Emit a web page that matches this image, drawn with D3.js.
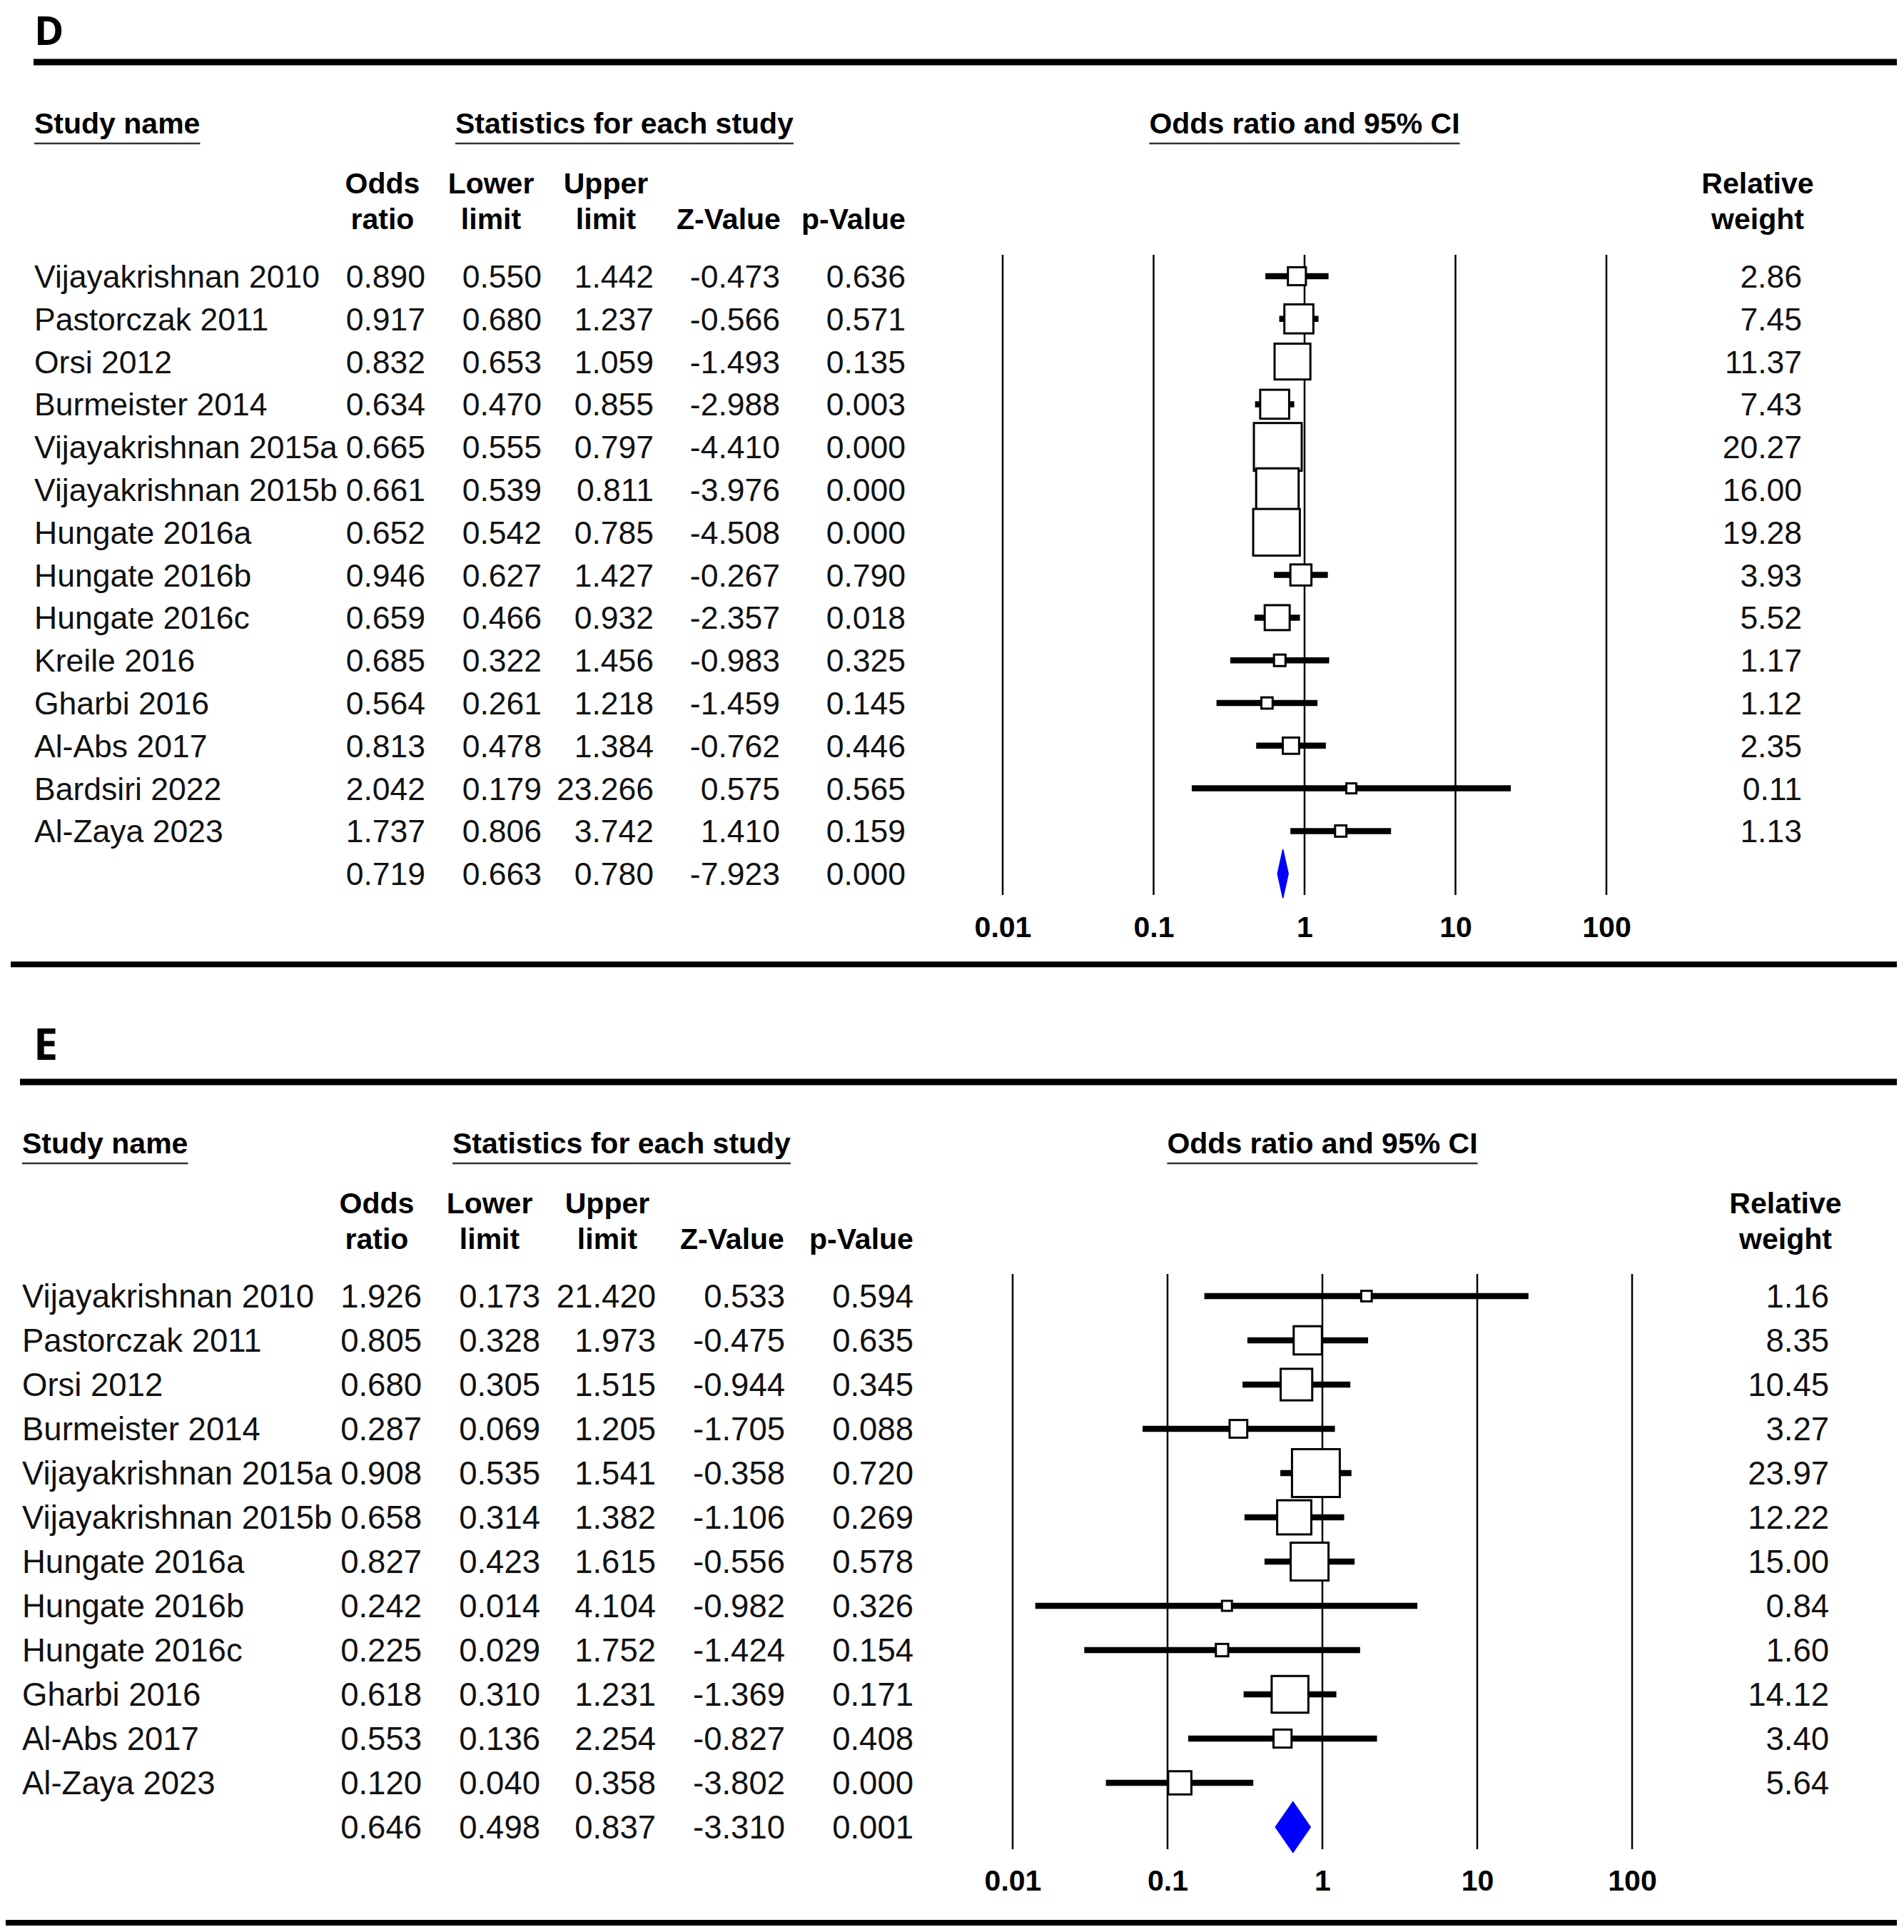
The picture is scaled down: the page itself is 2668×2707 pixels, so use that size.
<!DOCTYPE html>
<html>
<head>
<meta charset="utf-8">
<script src="https://cdn.jsdelivr.net/npm/d3@7"></script>
<style>
  body { margin: 0; background: #fff; }
  svg { display: block; }
</style>
</head>
<body>
<div id="chart"></div>
<script>
//Forest plots D and E

//Data - panel D
const studyD = ["Vijayakrishnan 2010", "Pastorczak 2011", "Orsi 2012", "Burmeister 2014", "Vijayakrishnan 2015a",
	"Vijayakrishnan 2015b", "Hungate 2016a", "Hungate 2016b", "Hungate 2016c", "Kreile 2016", "Gharbi 2016",
	"Al-Abs 2017", "Bardsiri 2022", "Al-Zaya 2023"];
const orD = [0.890, 0.917, 0.832, 0.634, 0.665, 0.661, 0.652, 0.946, 0.659, 0.685, 0.564, 0.813, 2.042, 1.737];
const lowD = [0.550, 0.680, 0.653, 0.470, 0.555, 0.539, 0.542, 0.627, 0.466, 0.322, 0.261, 0.478, 0.179, 0.806];
const upD = [1.442, 1.237, 1.059, 0.855, 0.797, 0.811, 0.785, 1.427, 0.932, 1.456, 1.218, 1.384, 23.266, 3.742];
const zD = [-0.473, -0.566, -1.493, -2.988, -4.410, -3.976, -4.508, -0.267, -2.357, -0.983, -1.459, -0.762, 0.575, 1.410];
const pD = [0.636, 0.571, 0.135, 0.003, 0.000, 0.000, 0.000, 0.790, 0.018, 0.325, 0.145, 0.446, 0.565, 0.159];
const wD = [2.86, 7.45, 11.37, 7.43, 20.27, 16.00, 19.28, 3.93, 5.52, 1.17, 1.12, 2.35, 0.11, 1.13];
const sumD = [0.719, 0.663, 0.780, -7.923, 0.000];

//Data - panel E
const studyE = ["Vijayakrishnan 2010", "Pastorczak 2011", "Orsi 2012", "Burmeister 2014", "Vijayakrishnan 2015a",
	"Vijayakrishnan 2015b", "Hungate 2016a", "Hungate 2016b", "Hungate 2016c", "Gharbi 2016", "Al-Abs 2017",
	"Al-Zaya 2023"];
const orE = [1.926, 0.805, 0.680, 0.287, 0.908, 0.658, 0.827, 0.242, 0.225, 0.618, 0.553, 0.120];
const lowE = [0.173, 0.328, 0.305, 0.069, 0.535, 0.314, 0.423, 0.014, 0.029, 0.310, 0.136, 0.040];
const upE = [21.420, 1.973, 1.515, 1.205, 1.541, 1.382, 1.615, 4.104, 1.752, 1.231, 2.254, 0.358];
const zE = [0.533, -0.475, -0.944, -1.705, -0.358, -1.106, -0.556, -0.982, -1.424, -1.369, -0.827, -3.802];
const pE = [0.594, 0.635, 0.345, 0.088, 0.720, 0.269, 0.578, 0.326, 0.154, 0.171, 0.408, 0.000];
const wE = [1.16, 8.35, 10.45, 3.27, 23.97, 12.22, 15.00, 0.84, 1.60, 14.12, 3.40, 5.64];
const sumE = [0.646, 0.498, 0.837, -3.310, 0.001];

//Labels
const colHeads = [["Odds", "ratio"], ["Lower", "limit"], ["Upper", "limit"], ["", "Z-Value"], ["", "p-Value"]];
const tickVals = [0.01, 0.1, 1, 10, 100];
const tickLabels = ["0.01", "0.1", "1", "10", "100"];

//Constants
const W = 2668, H = 2707;
const dataFont = "'Liberation Sans', Arial, sans-serif";
const loc = d3.formatLocale({decimal: ".", thousands: ",", grouping: [3], currency: ["", ""], minus: "-"});
const f3 = loc.format(".3f");
const f2 = loc.format(".2f");

let svg = d3.select("#chart").append("svg")
	.attr("width", W)
	.attr("height", H);

svg.append("rect").attr("width", W).attr("height", H).attr("fill", "#fff");

let underlined = function(g, x, y, txt, anchor) {
	let t = g.append("text")
		.attr("x", x).attr("y", y)
		.attr("text-anchor", anchor)
		.attr("font-family", dataFont)
		.attr("font-weight", "bold")
		.attr("font-size", 41)
		.text(txt);
	let len = t.node().getComputedTextLength();
	let x0 = anchor == "middle" ? x - len / 2 : x;
	g.append("line")
		.attr("x1", x0).attr("x2", x0 + len)
		.attr("y1", y + 14).attr("y2", y + 14)
		.attr("stroke", "#333").attr("stroke-width", 2.5);
}

let drawPanel = function(p) {
	let g = svg.append("g");
	let n = p.study.length;
	let y = function(i) { return p.row0 + i * p.step; };
	let ySum = y(n);
	let x = d3.scaleLog().domain([0.01, 100]).range(p.range);

	//panel letter and rules
	g.append("text")
		.attr("x", p.letterX).attr("y", p.letterBase)
		.attr("font-family", "'Open Sans', 'Noto Sans', sans-serif")
		.attr("font-weight", "bold")
		.attr("font-size", p.letterSize)
		.text(p.letter);
	g.append("line")
		.attr("x1", p.topX0).attr("x2", 2658)
		.attr("y1", p.row0 - 300).attr("y2", p.row0 - 300)
		.attr("stroke", "#000").attr("stroke-width", 9);
	g.append("line")
		.attr("x1", p.botX0).attr("x2", 2658)
		.attr("y1", ySum + p.botGap).attr("y2", ySum + p.botGap)
		.attr("stroke", "#000").attr("stroke-width", 8);

	//group headers
	underlined(g, p.nameX, p.row0 - 200, "Study name", "start");
	underlined(g, p.statsX, p.row0 - 200, "Statistics for each study", "start");
	underlined(g, x(1), p.row0 - 200, "Odds ratio and 95% CI", "middle");

	//column headers
	colHeads.forEach(function(hd, k) {
		hd.forEach(function(s, j) {
			g.append("text")
				.attr("x", p.colH[k])
				.attr("y", p.row0 + (j == 0 ? -116 : -66))
				.attr("text-anchor", "middle")
				.attr("font-family", dataFont)
				.attr("font-weight", "bold")
				.attr("font-size", 41)
				.text(s);
		});
	});
	["Relative", "weight"].forEach(function(s, j) {
		g.append("text")
			.attr("x", p.wH)
			.attr("y", p.row0 + (j == 0 ? -116 : -66))
			.attr("text-anchor", "middle")
			.attr("font-family", dataFont)
			.attr("font-weight", "bold")
			.attr("font-size", 41)
			.text(s);
	});

	//table rows
	let rows = p.study.map(function(s, i) {
		return {name: s, vals: [p.or[i], p.low[i], p.up[i], p.z[i], p.p[i]], w: p.w[i], i: i};
	});
	rows.push({name: "", vals: p.sum, w: null, i: n});

	let rowG = g.selectAll(".row").data(rows).enter().append("g")
		.attr("font-family", dataFont)
		.attr("font-size", p.fs)
		.attr("fill", "#111");
	rowG.append("text")
		.attr("x", p.nameX)
		.attr("y", function(d) { return y(d.i) + 16; })
		.text(function(d) { return d.name; });
	p.colR.forEach(function(cx, k) {
		rowG.append("text")
			.attr("x", cx)
			.attr("y", function(d) { return y(d.i) + 16; })
			.attr("text-anchor", "end")
			.text(function(d) { return f3(d.vals[k]); });
	});
	rowG.filter(function(d) { return d.w != null; })
		.append("text")
		.attr("x", p.wR)
		.attr("y", function(d) { return y(d.i) + 16; })
		.attr("text-anchor", "end")
		.text(function(d) { return f2(d.w); });

	//vertical reference lines
	g.selectAll(".vline").data(tickVals).enter().append("line")
		.attr("x1", x).attr("x2", x)
		.attr("y1", p.row0 - p.step / 2)
		.attr("y2", ySum + p.step / 2)
		.attr("stroke", "#000").attr("stroke-width", 2.5);

	//axis labels
	let axis = d3.axisBottom(x)
		.tickValues(tickVals)
		.tickFormat(function(d, i) { return tickLabels[i]; })
		.tickSize(0)
		.tickPadding(0);
	let ax = g.append("g")
		.attr("transform", "translate(0," + (ySum + 60) + ")")
		.call(axis);
	ax.select(".domain").remove();
	ax.selectAll("text")
		.attr("font-family", dataFont)
		.attr("font-weight", "bold")
		.attr("font-size", 41)
		.attr("fill", "#000");

	//CI whiskers and boxes
	let wMax = d3.max(p.w);
	let side = function(w) { return Math.max(67 * Math.sqrt(w / wMax), 14); };
	let study = rows.slice(0, n);
	g.selectAll(".ci").data(study).enter().append("line")
		.attr("x1", function(d) { return x(d.vals[1]); })
		.attr("x2", function(d) { return x(d.vals[2]); })
		.attr("y1", function(d) { return y(d.i); })
		.attr("y2", function(d) { return y(d.i); })
		.attr("stroke", "#000").attr("stroke-width", 8.5);
	g.selectAll(".box").data(study).enter().append("rect")
		.attr("x", function(d) { return x(d.vals[0]) - side(d.w) / 2; })
		.attr("y", function(d) { return y(d.i) - side(d.w) / 2; })
		.attr("width", function(d) { return side(d.w); })
		.attr("height", function(d) { return side(d.w); })
		.attr("fill", "#fff")
		.attr("stroke", "#000").attr("stroke-width", 3);

	//summary diamond
	let dh = p.step * 1.14 / 2;
	g.append("path")
		.attr("d", d3.line()([
			[x(p.sum[1]), ySum], [x(p.sum[0]), ySum - dh],
			[x(p.sum[2]), ySum], [x(p.sum[0]), ySum + dh]
		]) + "Z")
		.attr("fill", "#0000ff")
		.attr("stroke", "#0000ff").attr("stroke-width", 1.5);
}

drawPanel({
	letter: "D", letterX: 48, letterBase: 63, letterSize: 56,
	topX0: 47, botX0: 15, botGap: 127,
	row0: 387, step: 59.8, fs: 44.5,
	nameX: 48, statsX: 638,
	colR: [596, 759, 916, 1093, 1269], colH: [536, 688, 849, 1021, 1196],
	range: [1405, 2251], wR: 2525, wH: 2463,
	study: studyD, or: orD, low: lowD, up: upD, z: zD, p: pD, w: wD, sum: sumD
});

drawPanel({
	letter: "E", letterX: 47, letterBase: 1485, letterSize: 61,
	topX0: 28, botX0: 8, botGap: 134,
	row0: 1816, step: 62, fs: 45.5,
	nameX: 31, statsX: 634,
	colR: [591, 757, 919, 1100, 1280], colH: [528, 686, 851, 1026, 1207],
	range: [1419, 2287], wR: 2563, wH: 2502,
	study: studyE, or: orE, low: lowE, up: upE, z: zE, p: pE, w: wE, sum: sumE
});
</script>
</body>
</html>
